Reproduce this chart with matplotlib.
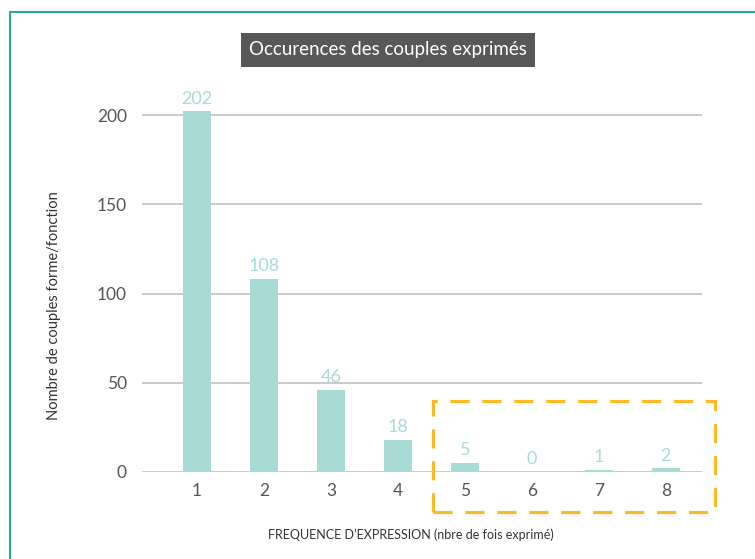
import matplotlib
matplotlib.use("Agg")
import matplotlib.pyplot as plt
from matplotlib.patches import Rectangle

# data
frequencies = ["1", "2", "3", "4", "5", "6", "7", "8"]
counts = [202, 108, 46, 18, 5, 0, 1, 2]

title = "Occurences des couples exprimés"
x_label = "FREQUENCE D\u2019EXPRESSION (nbre de fois exprimé)"
y_label = "Nombre de couples forme/fonction"
y_ticks = [0, 50, 100, 150, 200]

BAR = "#a8dbd6"
GRID = "#c6c6c6"
TEXT = "#555555"
FRAME = "#2aa893"
HIGHLIGHT = "#fbba27"

plt.rcParams["font.family"] = ["Lato", "DejaVu Sans"]

W, H = 755, 559
fig = plt.figure(figsize=(W / 100, H / 100), dpi=100)


def fx(px):
    return px / W


def fy(py):
    return 1 - py / H


# plot area: x 142..702 px, y=0 at 472 px, 1 unit = 1.785 px
ymax = 220
ax = fig.add_axes([fx(142), fy(472), fx(702 - 142), (ymax * 1.785) / H])

xs = list(range(1, len(frequencies) + 1))
ax.bar(xs, counts, width=0.42, color=BAR, zorder=3)
for x, c in zip(xs, counts):
    ax.annotate(str(c), (x, c), xytext=(0, 3.5), textcoords="offset points",
                ha="center", va="bottom", color=BAR, fontsize=13)

ax.set_xlim(0.18, 8.54)
ax.set_ylim(0, ymax)
ax.set_yticks(y_ticks)
ax.set_xticks(xs)
ax.set_xticklabels(frequencies)
ax.yaxis.grid(True, color=GRID, linewidth=1.3, zorder=0)
ax.tick_params(axis="both", length=0, labelcolor=TEXT, labelsize=12.5)
ax.tick_params(axis="y", pad=11)
ax.tick_params(axis="x", pad=8)
for s in ax.spines.values():
    s.set_visible(False)

# title in a dark box
fig.text(fx(388), fy(50), title, ha="center", va="center", color="white",
         fontsize=13.5,
         bbox=dict(boxstyle="square,pad=0.45", facecolor="#58585a", edgecolor="none"))

fig.text(fx(411), fy(535), x_label, ha="center", va="center", color="#333333", fontsize=9)
fig.text(fx(54), fy(306), y_label, ha="center", va="center", rotation=90,
         color="#333333", fontsize=10.5)

# dashed highlight around the low-frequency bars
fig.patches.append(Rectangle((fx(433), fy(512)), fx(715 - 433), (512 - 401) / H,
                             transform=fig.transFigure, fill=False,
                             edgecolor=HIGHLIGHT, linewidth=2.3,
                             linestyle=(0, (6, 4))))

# teal frame, only top and left edges inside the picture
fig.patches.append(Rectangle((fx(10), fy(600)), fx(800), (600 - 12) / H,
                             transform=fig.transFigure, fill=False,
                             edgecolor=FRAME, linewidth=1.5))

fig.savefig("out.png", dpi=100)
